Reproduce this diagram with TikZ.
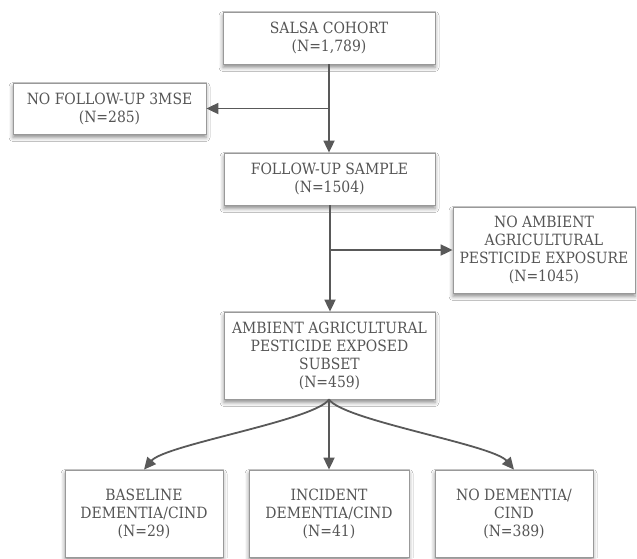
\documentclass[tikz,border=0pt]{standalone}
\usepackage{fontspec}
\setmainfont{DejaVu Serif Condensed}
\usetikzlibrary{arrows.meta,shadows.blur}
\definecolor{txt}{HTML}{555555}
\definecolor{edge}{HTML}{999999}
\definecolor{line}{HTML}{595959}
\begin{document}
\begin{tikzpicture}[x=1pt,y=-1pt,
  box/.style={draw=edge, line width=0.8pt, fill=white, text=txt, align=center,
    inner sep=0pt, font=\fontsize{15.5}{18}\selectfont,
    blur shadow={shadow xshift=0pt, shadow yshift=-3.5pt, shadow blur radius=4pt, shadow opacity=45}},
  conn/.style={draw=line, line width=1.8pt, -{Triangle[length=12pt,width=11pt]}}]
\useasboundingbox (0,0) rectangle (637,558);
\fill[white] (0,0) rectangle (637,558);
\node[box, minimum width=212pt, minimum height=52pt] (salsa) at (329,38) {SALSA COHORT\\(N=1,789)};
\node[box, minimum width=193pt, minimum height=51pt] (nofu) at (109.5,108.5) {NO FOLLOW-UP 3MSE\\(N=285)};
\node[box, minimum width=211pt, minimum height=52pt] (fus) at (329.5,179) {FOLLOW-UP SAMPLE\\(N=1504)};
\node[box, minimum width=182pt, minimum height=86pt] (noamb) at (544,250) {NO AMBIENT\\AGRICULTURAL\\PESTICIDE EXPOSURE\\(N=1045)};
\node[box, minimum width=211pt, minimum height=87pt] (sub) at (329.5,355.5) {AMBIENT AGRICULTURAL\\PESTICIDE EXPOSED\\SUBSET\\(N=459)};
\node[box, minimum width=158pt, minimum height=87pt] (base) at (144,513.5) {BASELINE\\DEMENTIA/CIND\\(N=29)};
\node[box, minimum width=160pt, minimum height=87pt] (inc) at (329,513.5) {INCIDENT\\DEMENTIA/CIND\\(N=41)};
\node[box, minimum width=158pt, minimum height=87pt] (nodem) at (514,513.5) {NO DEMENTIA/\\CIND\\(N=389)};
\coordinate (j1) at (salsa.south |- nofu.east);
\coordinate (j2) at ([xshift=0.5pt]fus.south |- noamb.west);
\draw[conn] (salsa.south) -- (salsa.south |- fus.north);
\draw[conn] (j1) -- (nofu.east);
\draw[conn] ([xshift=0.5pt]fus.south) -- ([xshift=0.5pt]fus.south |- sub.north);
\draw[conn] (j2) -- (noamb.west);
\draw[conn] ([xshift=-0.5pt]sub.south) .. controls +(-14,21) and +(21,-25) .. (base.north);
\draw[conn] ([xshift=-0.5pt]sub.south) -- (inc.north);
\draw[conn] ([xshift=-0.5pt]sub.south) .. controls +(14,21) and +(-21,-25) .. (nodem.north);
\end{tikzpicture}
\end{document}
